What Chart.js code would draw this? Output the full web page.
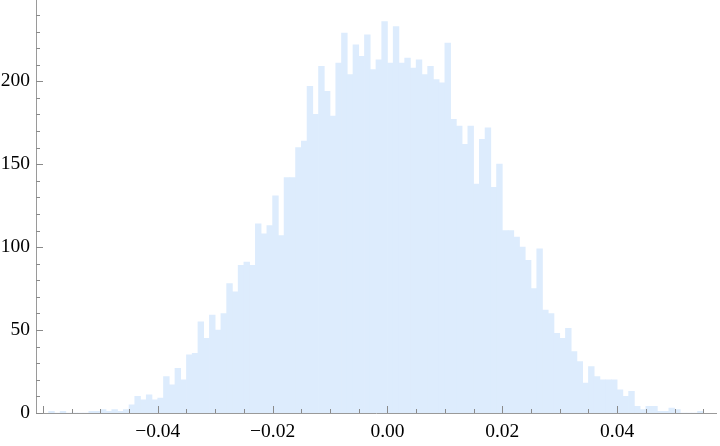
<!DOCTYPE html>
<html>
<head>
<meta charset="utf-8">
<script src="https://cdn.jsdelivr.net/npm/chart.js@4/dist/chart.umd.min.js"></script>
<style>
html,body{margin:0;padding:0;background:#fff;}
#wrap{width:720px;height:446px;}
</style>
</head>
<body>
<div id="wrap"><canvas id="c" width="720" height="446"></canvas></div>
<script>
// Histogram bins (bin width 0.001, first bin's left edge at -0.059)
const binStart = -0.059;
const binWidth = 0.001;
const counts = [
  1,0,1,0,0,0,0,1,1,2,
  1,2,1,2,5,10,8,11,8,9,
  22,17,27,20,35,36,55,45,59,50,
  60,78,73,89,91,89,114,108,113,131,
  107,142,142,160,164,197,180,209,194,179,
  211,229,204,222,215,228,207,213,236,211,
  233,211,214,208,213,204,209,201,199,223,
  177,173,162,173,138,165,172,136,150,110,
  110,106,100,92,75,99,62,60,48,45,
  51,37,31,18,28,22,20,20,20,14,
  10,13,4,2,4,4,1,1,3,2,
  0,0,0,1
];
const xTickLabels = [-0.04, -0.02, 0, 0.02, 0.04];
const xMajorTicks = [-0.06, -0.04, -0.02, 0, 0.02, 0.04];
const xMinorTicks = [-0.055,-0.05,-0.045,-0.035,-0.03,-0.025,-0.015,-0.01,-0.005,0.005,0.01,0.015,0.025,0.03,0.035,0.045,0.05,0.055];
const yTickLabels = [0, 50, 100, 150, 200];
const yMinorTicks = [10,20,30,40,60,70,80,90,110,120,130,140,160,170,180,190,210,220,230,240];

const points = counts.map((c, i) => ({ x: +(binStart + (i + 0.5) * binWidth).toFixed(4), y: c }));

const fontSpec = { family: "'Liberation Serif', 'Times New Roman', serif", size: 19.5 };

const inwardTicks = {
  id: 'inwardTicks',
  afterDatasetsDraw(chart) {
    const { ctx, scales: { x, y } } = chart;
    ctx.save();
    ctx.strokeStyle = '#8a8a8a';
    ctx.lineWidth = 1;
    const base = chart.chartArea.bottom;
    const left = chart.chartArea.left;
    const drawX = (v, len) => {
      const px = Math.round(x.getPixelForValue(v)) + 0.5;
      ctx.beginPath(); ctx.moveTo(px, base); ctx.lineTo(px, base - len); ctx.stroke();
    };
    const drawY = (v, len) => {
      const py = Math.round(y.getPixelForValue(v)) + 0.5;
      ctx.beginPath(); ctx.moveTo(left, py); ctx.lineTo(left + len, py); ctx.stroke();
    };
    xMajorTicks.forEach(v => drawX(v, 7));
    xMinorTicks.forEach(v => drawX(v, 4));
    yTickLabels.forEach(v => drawY(v, 7));
    yMinorTicks.forEach(v => drawY(v, 4));
    ctx.restore();
  }
};

const fmtX = v => (v < 0 ? '\u2212' : '') + Math.abs(v).toFixed(2);
const noPad = s => { s.paddingTop = 0; s.paddingBottom = 0; s.paddingLeft = 0; s.paddingRight = 0; };

new Chart(document.getElementById('c'), {
  type: 'bar',
  data: {
    datasets: [{
      data: points,
      backgroundColor: 'rgb(221,236,253)',
      borderWidth: 0,
      barPercentage: 1,
      categoryPercentage: 1
    }]
  },
  options: {
    responsive: false,
    animation: false,
    devicePixelRatio: 1,
    layout: { padding: { left: 0, right: 3.5, top: 0, bottom: 0 } },
    plugins: { legend: { display: false }, tooltip: { enabled: false } },
    scales: {
      x: {
        type: 'linear',
        min: -0.0612,
        max: 0.0573,
        offset: false,
        afterBuildTicks: s => { s.ticks = xTickLabels.map(v => ({ value: v })); },
        ticks: {
          callback: v => fmtX(v),
          font: fontSpec,
          color: '#000',
          padding: 7,
          maxRotation: 0,
          autoSkip: false
        },
        grid: { display: false, drawTicks: false },
        border: { display: true, color: '#9a9a9a', width: 1 },
        afterFit: s => { s.height = 33; noPad(s); }
      },
      y: {
        min: 0,
        max: 249,
        afterBuildTicks: s => { s.ticks = yTickLabels.map(v => ({ value: v })); },
        ticks: {
          callback: v => String(v),
          font: fontSpec,
          color: '#000',
          padding: 6,
          autoSkip: false
        },
        grid: { display: false, drawTicks: false },
        border: { display: true, color: '#9a9a9a', width: 1 },
        afterFit: s => { s.width = 36; noPad(s); }
      }
    }
  },
  plugins: [inwardTicks]
});
</script>
</body>
</html>
